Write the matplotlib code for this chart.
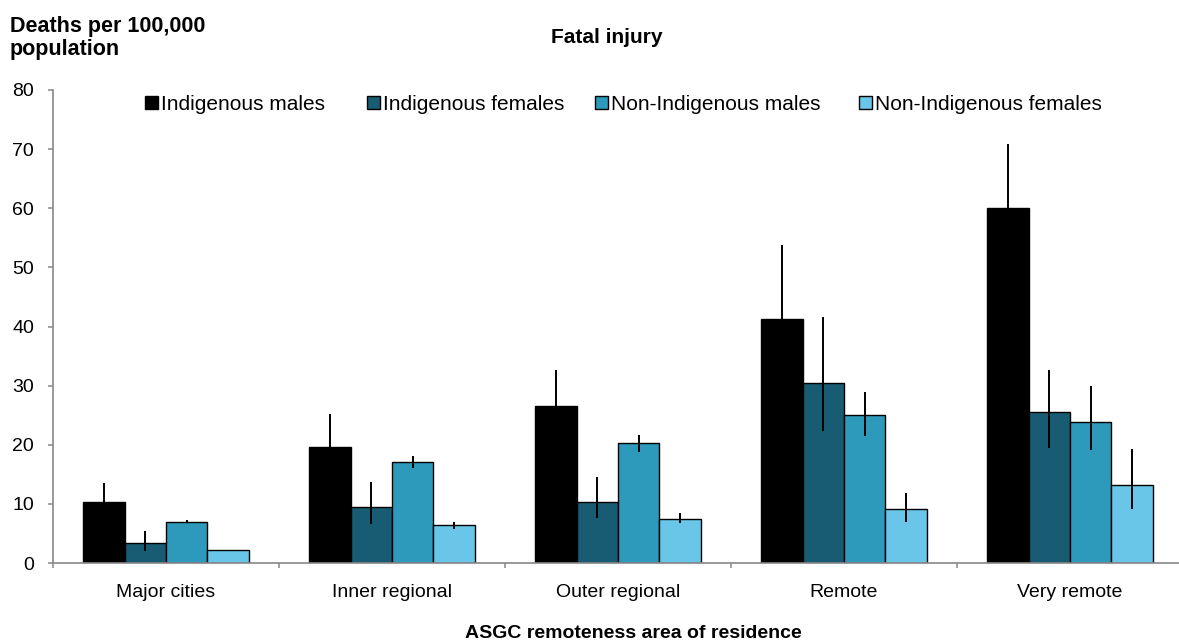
import matplotlib
matplotlib.use("Agg")
import matplotlib.pyplot as plt
from matplotlib.patches import Patch
import numpy as np

plt.rcParams['font.family'] = ['Liberation Sans', 'DejaVu Sans']

categories = ["Major cities", "Inner regional", "Outer regional", "Remote", "Very remote"]
series = ["Indigenous males", "Indigenous females", "Non-Indigenous males", "Non-Indigenous females"]
colors = ["#000000", "#175C72", "#2E9ABB", "#69C6E8"]

ind_males = [10.3, 19.65, 26.6, 41.2, 60.1]
ind_males_lo = [7.1, 14.1, 20.55, 28.7, 49.4]
ind_males_hi = [13.5, 25.2, 32.6, 53.8, 70.9]

ind_females = [3.4, 9.5, 10.4, 30.5, 25.5]
ind_females_lo = [2.1, 6.6, 7.6, 22.3, 19.5]
ind_females_hi = [5.4, 13.7, 14.6, 41.6, 32.6]

non_males = [7.0, 17.1, 20.25, 25.1, 23.9]
non_males_lo = [6.7, 16.1, 18.85, 21.4, 19.05]
non_males_hi = [7.2, 18.1, 21.65, 29.0, 29.9]

non_females = [2.2, 6.4, 7.45, 9.1, 13.2]
non_females_lo = [2.2, 5.8, 6.7, 7.0, 9.1]
non_females_hi = [2.2, 7.0, 8.4, 11.9, 19.2]

values = [ind_males, ind_females, non_males, non_females]
lows = [ind_males_lo, ind_females_lo, non_males_lo, non_females_lo]
highs = [ind_males_hi, ind_females_hi, non_males_hi, non_females_hi]

W, H = 1179, 642
fig = plt.figure(figsize=(W / 100, H / 100), dpi=100)
ax = fig.add_axes([53 / W, 1 - 563 / H, 1130 / W, 473 / H])

x = np.arange(len(categories))
w = 0.183
for i, (vals, lo, hi, c, name) in enumerate(zip(values, lows, highs, colors, series)):
    pos = x + (i - 1.5) * w
    vals = np.array(vals); lo = np.array(lo); hi = np.array(hi)
    ax.bar(pos, vals, width=w, color=c, edgecolor="#000000", linewidth=1.0, label=name, zorder=2)
    ax.errorbar(pos, vals, yerr=[vals - lo, hi - vals], fmt="none", ecolor="#000000",
                elinewidth=1.4, capsize=0, zorder=3)

ax.set_xlim(-0.5, len(categories) - 0.5)
ax.set_ylim(0, 80)
ax.set_yticks(range(0, 81, 10))
ax.set_xticks(x)
ax.set_xticklabels(categories, fontsize=14)
ax.set_xticks(np.arange(-0.5, len(categories), 1), minor=True)
ax.tick_params(axis="x", which="major", length=0, pad=15)
ax.tick_params(axis="x", which="minor", length=3.6, color="#888888", width=1.1)
ax.tick_params(axis="y", length=3.6, color="#888888", width=1.1, labelsize=14, pad=10)
for s in ["top", "right"]:
    ax.spines[s].set_visible(False)
for s in ["left", "bottom"]:
    ax.spines[s].set_color("#888888")
    ax.spines[s].set_linewidth(1.2)

# legend entries placed individually (Excel-like uneven column spacing)
legend_left_px = [145, 367, 595, 859]
for name, c, lx in zip(series, colors, legend_left_px):
    fig.legend(handles=[Patch(facecolor=c, edgecolor="#000000", linewidth=1.0, label=name)],
               loc="center left", bbox_to_anchor=(lx / W, 1 - 104 / H), frameon=False,
               fontsize=15, handlelength=0.6, handleheight=0.6, handletextpad=0.15,
               borderaxespad=0.0, borderpad=0.0)

fig.text(0.515, 1 - 43 / H, "Fatal injury", ha="center", va="baseline", fontsize=15,
         fontweight="bold")
fig.text(10 / W, 1 - 16 / H, "Deaths per 100,000\npopulation", ha="left", va="top", fontsize=15.5,
         fontweight="bold", linespacing=1.12)
fig.text(0.537, 1 - 638 / H, "ASGC remoteness area of residence", ha="center", va="baseline",
         fontsize=14, fontweight="bold")

fig.savefig("out.png", dpi=100)
